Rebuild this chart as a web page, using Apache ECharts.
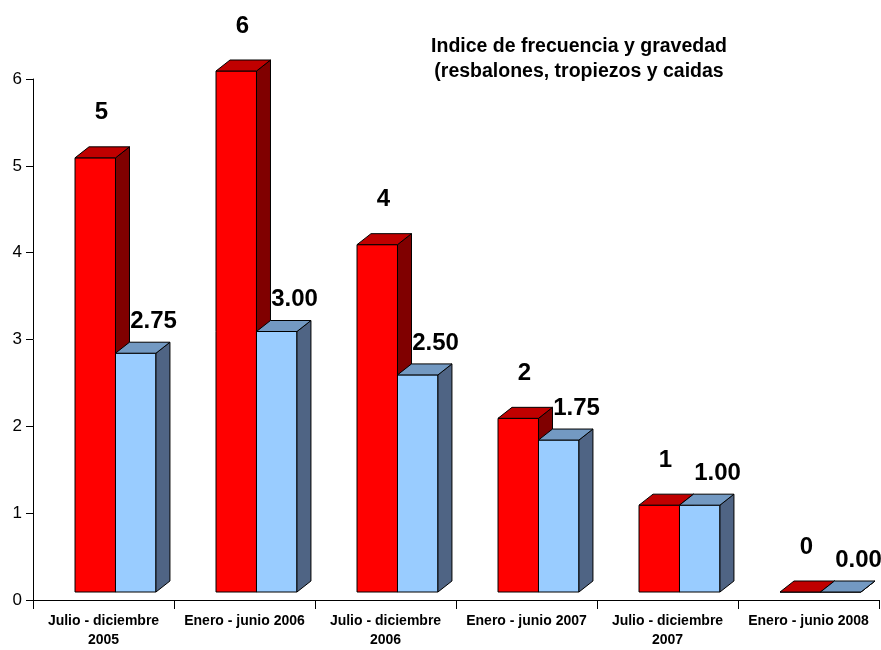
<!DOCTYPE html>
<html>
<head>
<meta charset="utf-8">
<script src="https://cdn.jsdelivr.net/npm/echarts@6/dist/echarts.min.js"></script>
<style>
html,body{margin:0;padding:0;background:#fff;}
#chart{width:881px;height:650px;}
</style>
</head>
<body>
<div id="chart"></div>
<script>
var categories = ['Julio - diciembre\n2005', 'Enero - junio 2006', 'Julio - diciembre\n2006', 'Enero - junio 2007', 'Julio - diciembre\n2007', 'Enero - junio 2008'];
var frecuencia = [5, 6, 4, 2, 1, 0];
var gravedad = [2.75, 3.00, 2.50, 1.75, 1.00, 0.00];
var yTicks = [0, 1, 2, 3, 4, 5, 6];
var titleText = 'Indice de frecuencia y gravedad\n(resbalones, tropiezos y caidas';

var FONT = "'Liberation Sans', Arial, sans-serif";

function makeRender(values, which, colors, decimals, labelDx, labelDy) {
  return function (params, api) {
    var i = api.value(0);
    var v = api.value(1);
    var band = api.size([1, 0])[0];
    var cx = api.coord([i, 0])[0];
    var y0 = api.coord([i, 0])[1];
    var yv = api.coord([i, v])[1];
    var floor = 8, dx = 14, dy = -11;
    var w = band * 0.287;
    var xl = which === 0 ? cx - band * 0.202 : cx - band * 0.202 + w;
    var xr = xl + w;
    var yt = yv - floor, yb = y0 - floor;
    var lineStyle = {stroke: '#000', lineWidth: 1};
    var children = [
      {type: 'polygon', shape: {points: [[xl, yt], [xr, yt], [xr, yb], [xl, yb]]},
        style: Object.assign({fill: colors[0]}, lineStyle)},
      {type: 'polygon', shape: {points: [[xr, yt], [xr + dx, yt + dy], [xr + dx, yb + dy], [xr, yb]]},
        style: Object.assign({fill: colors[2]}, lineStyle)},
      {type: 'polygon', shape: {points: [[xl, yt], [xl + dx, yt + dy], [xr + dx, yt + dy], [xr, yt]]},
        style: Object.assign({fill: colors[1]}, lineStyle)},
      {type: 'text', x: cx + labelDx, y: yv + labelDy,
        style: {text: v.toFixed(decimals), fill: '#000', font: 'bold 24px ' + FONT,
          align: 'center', verticalAlign: 'middle'}}
    ];
    return {type: 'group', children: children};
  };
}

function seriesData(values) {
  return values.map(function (v, i) { return [i, v]; });
}

var chart = echarts.init(document.getElementById('chart'), null, {renderer: 'canvas'});
chart.setOption({
  animation: false,
  backgroundColor: '#fff',
  grid: {left: 33, right: 2, top: 79, bottom: 47, containLabel: false},
  graphic: [{
    type: 'text', x: 579, y: 59, z: 10,
    style: {text: titleText, font: 'bold 19.5px ' + FONT, fill: '#000', align: 'center', verticalAlign: 'middle', lineHeight: 25}
  }],
  xAxis: {
    type: 'category',
    data: categories,
    boundaryGap: true,
    axisLine: {lineStyle: {color: '#000', width: 1}},
    axisTick: {show: true, length: 9, lineStyle: {color: '#000'}},
    axisLabel: {color: '#000', fontFamily: FONT, fontWeight: 'bold', fontSize: 14, lineHeight: 19, margin: 12, interval: 0}
  },
  yAxis: {
    type: 'value',
    min: yTicks[0], max: yTicks[yTicks.length - 1], interval: 1,
    axisLine: {show: true, lineStyle: {color: '#000', width: 1}},
    axisTick: {show: true, length: 7, lineStyle: {color: '#000'}},
    splitLine: {show: false},
    axisLabel: {color: '#000', fontFamily: FONT, fontSize: 17, margin: 11}
  },
  series: [
    {type: 'custom', name: 'Frecuencia', data: seriesData(frecuencia),
      renderItem: makeRender(frecuencia, 0, ['#FF0000', '#C00000', '#800000'], 0, -2, -53)},
    {type: 'custom', name: 'Gravedad', data: seriesData(gravedad),
      renderItem: makeRender(gravedad, 1, ['#99CCFF', '#7399C2', '#4F6484'], 2, 50, -40)}
  ]
});
</script>
</body>
</html>
